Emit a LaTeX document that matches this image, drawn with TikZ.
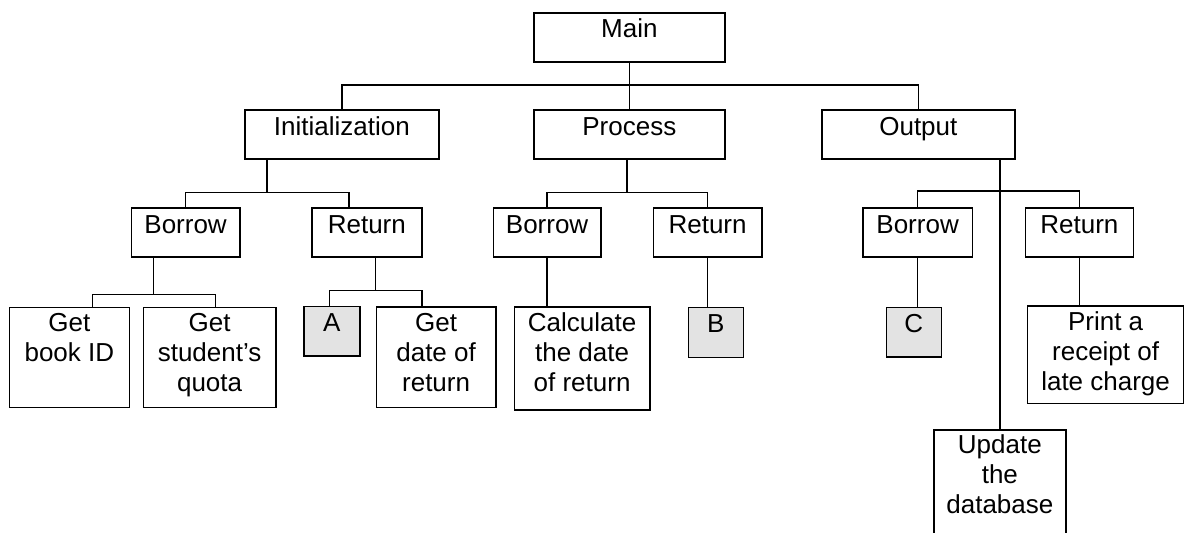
\documentclass[tikz,border=0pt]{standalone}
\usepackage{fontspec}
\setmainfont{Liberation Sans}
\begin{document}
\begin{tikzpicture}[x=1pt,y=-1pt,
  box/.style={draw=black,line width=1.7pt,rectangle,inner sep=0pt,anchor=north west},
  shade/.style={box,fill=gray!22},
  txt/.style={anchor=north,inner sep=0pt,align=center,font=\fontsize{26}{30}\selectfont},
  conn/.style={draw=black,line width=1.5pt}]
\useasboundingbox (0,0) rectangle (1184,533);
% level 0/1
\node[box,minimum width=191pt,minimum height=49pt] (main) at (533,12) {};
\node[box,minimum width=194pt,minimum height=49pt] (init) at (244,109) {};
\node[box,minimum width=191pt,minimum height=49pt] (proc) at (533,109) {};
\node[box,minimum width=193pt,minimum height=49pt] (outp) at (821,109) {};
% level 2
\node[box,minimum width=108.5pt,minimum height=49pt] (ib) at (130.5,207) {};
\node[box,minimum width=110pt,minimum height=49pt] (ir) at (311,207) {};
\node[box,minimum width=107.5pt,minimum height=49pt] (pb) at (492.5,207) {};
\node[box,minimum width=108.5pt,minimum height=49pt] (pr) at (652.5,207) {};
\node[box,minimum width=109.5pt,minimum height=49pt] (ob) at (862,207) {};
\node[box,minimum width=108pt,minimum height=49pt] (or) at (1024.5,207) {};
% level 3
\node[box,minimum width=120pt,minimum height=100pt] (gbid) at (8.5,306.5) {};
\node[box,minimum width=132.5pt,minimum height=100pt] (gsq) at (142.5,306.5) {};
\node[shade,minimum width=56pt,minimum height=49.5pt] (A) at (303,305.5) {};
\node[box,minimum width=119.5pt,minimum height=100.5pt] (gdr) at (375.5,306) {};
\node[box,minimum width=135.5pt,minimum height=103pt] (calc) at (513.5,306) {};
\node[shade,minimum width=55pt,minimum height=50pt] (B) at (687.5,306.5) {};
\node[shade,minimum width=55pt,minimum height=49.5pt] (C) at (885.5,306.5) {};
\node[box,minimum width=156.5pt,minimum height=97.5pt] (print) at (1026.5,305) {};
\node[box,minimum width=132pt,minimum height=108pt] (upd) at (933,429) {};
% texts
\node[txt] (mainT) at ([yshift=-4.5pt]main.north) {\strut Main};
\node[txt] (initT) at ([yshift=-5pt]init.north) {\strut Initialization};
\node[txt] (procT) at ([yshift=-5pt]proc.north) {\strut Process};
\node[txt] (outpT) at ([yshift=-5pt]outp.north) {\strut Output};
\node[txt] (ibT) at ([yshift=-5pt]ib.north) {\strut Borrow};
\node[txt] (irT) at ([yshift=-5pt]ir.north) {\strut Return};
\node[txt] (pbT) at ([yshift=-5pt]pb.north) {\strut Borrow};
\node[txt] (prT) at ([yshift=-5pt]pr.north) {\strut Return};
\node[txt] (obT) at ([yshift=-5pt]ob.north) {\strut Borrow};
\node[txt] (orT) at ([yshift=-5pt]or.north) {\strut Return};
\node[txt] (gbidT) at ([yshift=-4.2pt]gbid.north) {\strut Get\\book ID};
\node[txt] (gsqT) at ([yshift=-4.2pt]gsq.north) {\strut Get\\student’s\\quota};
\node[txt] (AT) at ([yshift=-5pt]A.north) {\strut A};
\node[txt] (gdrT) at ([yshift=-4.5pt]gdr.north) {\strut Get\\date of\\return};
\node[txt] (calcT) at ([yshift=-4.7pt]calc.north) {\strut Calculate\\the date\\of return};
\node[txt] (BT) at ([yshift=-4.5pt]B.north) {\strut B};
\node[txt] (CT) at ([yshift=-4.5pt]C.north) {\strut C};
\node[txt] (printT) at ([yshift=-4pt]print.north) {\strut Print a\\receipt of\\late charge};
\node[txt] (updT) at ([yshift=-3.3pt]upd.north) {\strut Update\\the\\database};
% connectors level 0 -> 1
\coordinate (bus1) at (628.5,85);
\draw[conn] (main.south) -- (proc.north);
\draw[conn] (init.north) |- (bus1) -| (outp.north);
% level 1 -> 2
\draw[conn] ([xshift=-75pt]init.south) -- ++(0,33) coordinate (j1);
\draw[conn] (ib.north) |- (j1) -| ([xshift=-18pt]ir.north);
\draw[conn] ([xshift=-2.5pt]proc.south) -- ++(0,33) coordinate (j2);
\draw[conn] (pb.north) |- (j2) -| (pr.north);
\draw[conn] (upd.north |- outp.south) -- (upd.north);
\coordinate (j3) at (upd.north |- 0,191);
\draw[conn] (ob.north) |- (j3) -| (or.north);
% level 2 -> 3
\draw[conn] ([xshift=-32pt]ib.south) -- ++(0,37) coordinate (j4);
\draw[conn] ([xshift=23.3pt]gbid.north) |- (j4) -| ([xshift=6pt]gsq.north);
\draw[conn] ([xshift=8.6pt]ir.south) -- ++(0,33) coordinate (j5);
\draw[conn] ([xshift=-2.5pt]A.north) |- (j5) -| ([xshift=-14pt]gdr.north);
\draw[conn] (pb.south) -- (pb.south |- calc.north);
\draw[conn] (pr.south) -- (pr.south |- B.north);
\draw[conn] (ob.south) -- (ob.south |- C.north);
\draw[conn] (or.south) -- (or.south |- print.north);
\end{tikzpicture}
\end{document}
